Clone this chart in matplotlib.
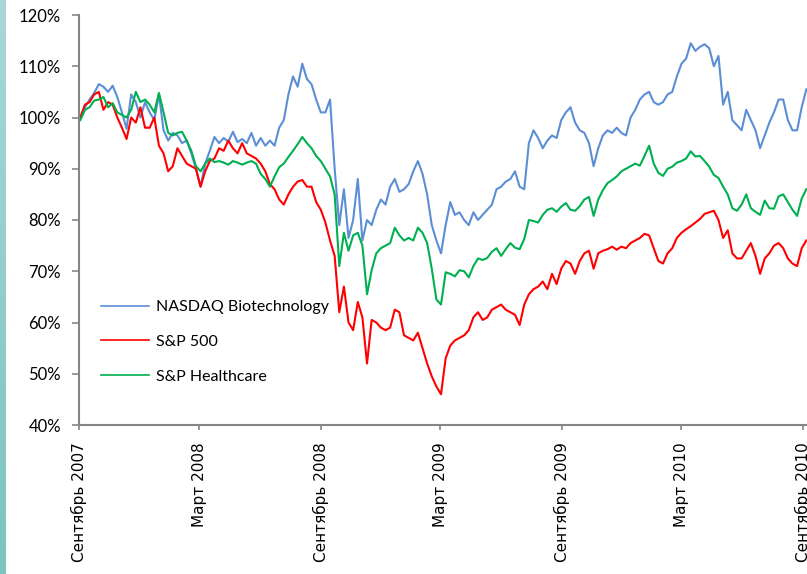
import numpy as np
import pandas as pd
import matplotlib
matplotlib.use("Agg")
import matplotlib.pyplot as plt
from matplotlib.ticker import FuncFormatter

# Недельные значения индексов (в % от уровня сентября 2007)
dates = pd.date_range("2007-09-03", periods=158, freq="7D")

nasdaq_biotech = [
    100, 102, 103.5, 104.8, 106.5, 106, 105, 106.2, 104, 101,
    97.8, 104.5, 103, 100, 103, 101, 99.5, 104.5, 97.5, 95.5,
    97, 96.5, 95, 95.5, 93, 90, 86.5, 91, 93.5, 96.2,
    95, 96, 95.3, 97.2, 95.2, 95.8, 95, 97, 94.5, 96,
    94.5, 95.5, 94.5, 98, 99.5, 104.5, 108, 106, 110.5, 107.5,
    106.5, 103.5, 101, 101, 103.5, 90, 79, 86, 76.5, 80,
    88, 76, 80, 79, 82, 84, 83, 86.5, 88, 85.5,
    86, 87, 89.5, 91.5, 89, 85, 79, 76, 73.5, 79,
    83.5, 81, 81.5, 80, 79, 81.5, 80, 81, 82, 83,
    86, 86.5, 87.5, 88, 89.5, 86.5, 86, 95, 97.5, 96,
    94, 95.5, 96.5, 96, 99.5, 101, 102, 99, 97.5, 97,
    95, 90.5, 94, 96.5, 97.5, 97, 98, 97, 96.5, 100,
    101.5, 103.5, 104.5, 105, 103, 102.5, 103, 104.5, 105, 108,
    110.5, 111.5, 114.5, 113, 113.8, 114.3, 113.5, 110, 112, 102.5,
    105, 99.5, 98.5, 97.5, 101.5, 99.5, 97.5, 94, 96.5, 99,
    101, 103.5, 103.5, 99.5, 97.5, 97.5, 102, 105.5,
]

sp500 = [
    100, 102.5, 103, 104.5, 105, 101.5, 103, 102.5, 100, 98,
    95.8, 100, 99, 102, 98, 98, 100, 94.5, 93, 89.5,
    90.5, 94, 92.5, 91, 90.5, 90, 86.5, 89.5, 91.5, 92,
    94, 93.5, 95.5, 94, 93, 95, 93, 92.5, 92, 91,
    89.5, 87, 86, 84, 83, 85, 86.5, 87.5, 87.8, 86.5,
    86.5, 83.5, 82, 79.5, 76, 73, 62, 67, 60, 58.5,
    64, 61, 52, 60.5, 60, 59, 58.5, 59, 62.5, 62,
    57.5, 57, 56.5, 58, 55, 52, 49.5, 47.5, 46, 53,
    55.5, 56.5, 57, 57.5, 58.5, 61, 62, 60.5, 61, 62.5,
    63, 63.5, 62.5, 62, 61.5, 59.5, 63.5, 65.5, 66.5, 67,
    68, 66.5, 69.5, 67.5, 70.5, 72, 71.5, 69.5, 72, 73.5,
    74, 70.5, 73.5, 74, 74.3, 74.8, 74.2, 74.8, 74.5, 75.5,
    76, 76.5, 77.3, 77, 74.5, 72, 71.5, 73.5, 74.5, 76.5,
    77.5, 78.2, 78.8, 79.5, 80.2, 81.2, 81.5, 81.8, 80, 76.5,
    78, 73.5, 72.5, 72.5, 74, 75.5, 73, 69.5, 72.5, 73.5,
    75, 75.5, 74.5, 72.5, 71.5, 71, 74.5, 76,
]

sp_healthcare = [
    99.5, 101.5, 102, 103.3, 103.5, 104, 102, 102.8, 101, 100.5,
    100, 101.5, 105, 103, 103.5, 102.5, 101, 104.8, 101, 97,
    96.5, 97, 97.2, 95.5, 93.5, 90.5, 89.5, 91, 92, 91.3,
    91.5, 91.2, 90.8, 91.5, 91.2, 90.8, 91.2, 91.5, 91, 89,
    88, 86.5, 88.5, 90.3, 91, 92.3, 93.5, 94.8, 96.2, 95,
    94, 92.5, 91.5, 90, 88.5, 85, 71, 77.5, 74, 77,
    77.5, 75, 65.5, 70.2, 73.5, 74.5, 75, 75.5, 78.5, 77,
    76, 76.5, 76, 78.5, 77.5, 75.5, 70.5, 64.5, 63.5, 69.8,
    69.5, 69, 70.2, 70, 68.8, 71, 72.5, 72.2, 72.6, 73.8,
    74.5, 73, 74.3, 75.5, 74.6, 74.3, 76.3, 80, 79.8, 79.5,
    81, 82, 82.3, 81.6, 82.6, 83.3, 82, 81.8, 82.7, 84,
    84.5, 80.8, 84, 85.8, 87.2, 87.8, 88.5, 89.5, 90, 90.5,
    91, 90.6, 92.5, 94.5, 91, 89.2, 88.6, 90, 90.4, 91.2,
    91.5, 92, 93.4, 92.4, 92.5, 91.5, 90.4, 88.8, 88.2, 86.5,
    85, 82.3, 81.8, 83, 85, 82.3, 81.6, 81, 83.8, 82.3,
    82.2, 84.6, 85, 83.5, 82, 80.8, 84.2, 86,
]

tick_dates = pd.to_datetime(["2007-09-01", "2008-03-01", "2008-09-01", "2009-03-01",
                             "2009-09-01", "2010-03-01", "2010-09-01"])
tick_labels = ["Сентябрь 2007", "Март 2008", "Сентябрь 2008", "Март 2009",
               "Сентябрь 2009", "Март 2010", "Сентябрь 2010"]

fig = plt.figure(figsize=(8.07, 5.74), dpi=100)

# полоска слева (фон слайда)
strip = fig.add_axes([0, 0, 6 / 807, 1])
grad = np.linspace(0, 1, 100).reshape(-1, 1)
strip.imshow(grad, aspect="auto", cmap=matplotlib.colors.LinearSegmentedColormap.from_list(
    "strip", ["#a8d8d6", "#7cc4be"]), extent=[0, 1, 0, 1])
strip.axis("off")

ax = fig.add_axes([79 / 807, 1 - 425 / 574, 728 / 807, 410 / 574])

ax.plot(dates, nasdaq_biotech, color="#5b8ed6", linewidth=1.5, label="NASDAQ Biotechnology")
ax.plot(dates, sp500, color="#ff0000", linewidth=1.5, label="S&P 500")
ax.plot(dates, sp_healthcare, color="#00b050", linewidth=1.5, label="S&P Healthcare")

ax.set_ylim(40, 120)
ax.set_yticks(range(40, 121, 10))
ax.yaxis.set_major_formatter(FuncFormatter(lambda v, p: f"{v:.0f}%"))
ax.set_xlim(pd.Timestamp("2007-09-01"), pd.Timestamp("2010-09-07"))
ax.set_xticks(tick_dates)
ax.set_xticklabels(tick_labels, rotation=90, fontsize=11, family="DejaVu Sans", va="top")

for lab in ax.get_yticklabels():
    lab.set_family("Lato")
    lab.set_fontsize(12)

ax.spines["top"].set_visible(False)
ax.spines["right"].set_visible(False)
for s in ("left", "bottom"):
    ax.spines[s].set_color("#868686")
    ax.spines[s].set_linewidth(1.5)
ax.tick_params(axis="y", direction="out", length=5, width=1.2, color="#868686", pad=8)
ax.tick_params(axis="x", direction="out", length=3.5, width=1.2, color="#868686", pad=9)

leg = ax.legend(loc="upper left", bbox_to_anchor=(0.03, 0.305), frameon=False,
                prop={"family": "Lato", "size": 11.5}, handlelength=3.0,
                handletextpad=0.45, labelspacing=1.3, borderpad=0, borderaxespad=0)
for line in leg.get_lines():
    line.set_linewidth(1.2)

fig.savefig("out.png", dpi=100)
